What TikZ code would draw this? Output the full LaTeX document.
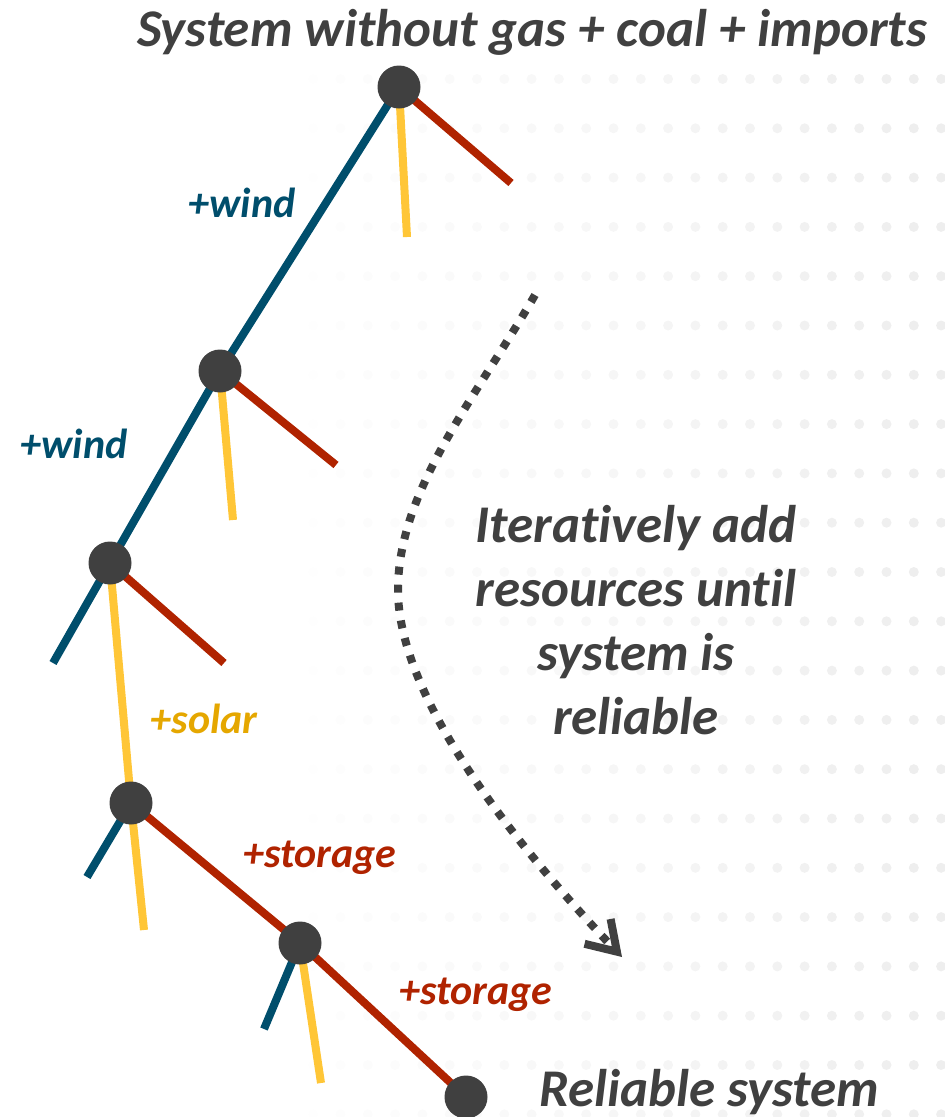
\documentclass[tikz,border=0pt]{standalone}
\usepackage{fontspec}
\setmainfont{Carlito}[Ligatures=CommonOff]
\usepackage{xcolor}
\usetikzlibrary{arrows.meta, backgrounds}
\definecolor{windblue}{RGB}{0,78,108}
\definecolor{solaryellow}{RGB}{255,198,55}
\definecolor{solargold}{RGB}{229,167,0}
\definecolor{storagered}{RGB}{176,35,0}
\definecolor{darkgrey}{RGB}{64,64,64}
\tikzset{
    stage/.style={
        circle,
        fill=darkgrey,
        minimum size=43pt,
        inner sep=0pt
    },
    windline/.style={line width=8pt, draw=windblue},
    solarline/.style={line width=8pt, draw=solaryellow},
    storageline/.style={line width=8pt, draw=storagered},
    steplabel/.style={
        anchor=base,
        font=\fontsize{42}{50}\selectfont\bfseries\itshape
    },
    bigtext/.style={
        text=darkgrey,
        font=\fontsize{53}{64}\selectfont\bfseries\itshape
    },
    loopline/.style={
        line width=8pt,
        draw=darkgrey,
        dash pattern=on 8pt off 10pt,
        -{Straight Barb[length=28pt, width=36pt, line width=8pt]}
    }
}

\begin{document}
\begin{tikzpicture}[x=1pt, y=-1pt]
    \useasboundingbox (0,0) rectangle (945,1117);

    % Steps of the search
    \node[stage] (n1) at (399,87) {};
    \node[stage] (n2) at (220,371) {};
    \node[stage] (n3) at (110,563) {};
    \node[stage] (n4) at (131,803) {};
    \node[stage] (n5) at (300,943) {};
    \node[stage] (n6) at (466,1097) {};

    % Ends of the branches not taken
    \coordinate (n1s) at (407,237);
    \coordinate (n1r) at (511,183);
    \coordinate (n2s) at (233,520);
    \coordinate (n2r) at (336,465);
    \coordinate (n3w) at (53,663);
    \coordinate (n3r) at (224,663);
    \coordinate (n4w) at (87,877);
    \coordinate (n4s) at (144,930);
    \coordinate (n5w) at (264,1029);
    \coordinate (n5s) at (321,1083);

    % Branches
    \begin{scope}[on background layer]
        \foreach \i [evaluate=\i as \dotshade using 0.4+6.4*\i/23] in {0,...,23}
            \foreach \j in {0,...,21}
                \fill[black!\dotshade] (313.2+27.3*\i, 79+49.3*\j) circle (5pt);

        \draw[solarline] (n1.center) -- (n1s);
        \draw[storageline] (n1.center) -- (n1r);
        \draw[solarline] (n2.center) -- (n2s);
        \draw[storageline] (n2.center) -- (n2r);
        \draw[storageline] (n3.center) -- (n3r);
        \draw[windline] (n4.center) -- (n4w);
        \draw[solarline] (n4.center) -- (n4s);
        \draw[windline] (n5.center) -- (n5w);
        \draw[solarline] (n5.center) -- (n5s);

        \draw[windline] (n1.center) -- (n2.center) -- (n3.center) -- (n3w);
        \draw[solarline] (n3.center) -- (n4.center);
        \draw[storageline] (n4.center) -- (n5.center) -- (n6.center);
    \end{scope}

    % Labels
    \node[steplabel, text=windblue] (w1) at (242,217) {+wind};
    \node[steplabel, text=windblue] (w2) at (74,458) {+wind};
    \node[steplabel, text=solargold] (s1) at (204,733) {+solar};
    \node[steplabel, text=storagered] (b1) at (320,867) {+storage};
    \node[steplabel, text=storagered] (b2) at (476,1004) {+storage};

    \node[bigtext, anchor=base] (title) at (532,46) {System without gas + coal + imports};
    \node[bigtext, anchor=base] (goal) at (709,1106) {Reliable system};
    \node[bigtext, align=center] (loop) at (636,620) {Iteratively add\\resources until\\system is\\reliable};

    % Iteration arrow
    \coordinate (loopstart) at (535,295);
    \coordinate (loopend) at (622,957);
    \draw[loopline] (loopstart) .. controls (475,399) and (398,490) .. (398,590)
        .. controls (398,700) and (520,850) .. (loopend);
\end{tikzpicture}
\end{document}
